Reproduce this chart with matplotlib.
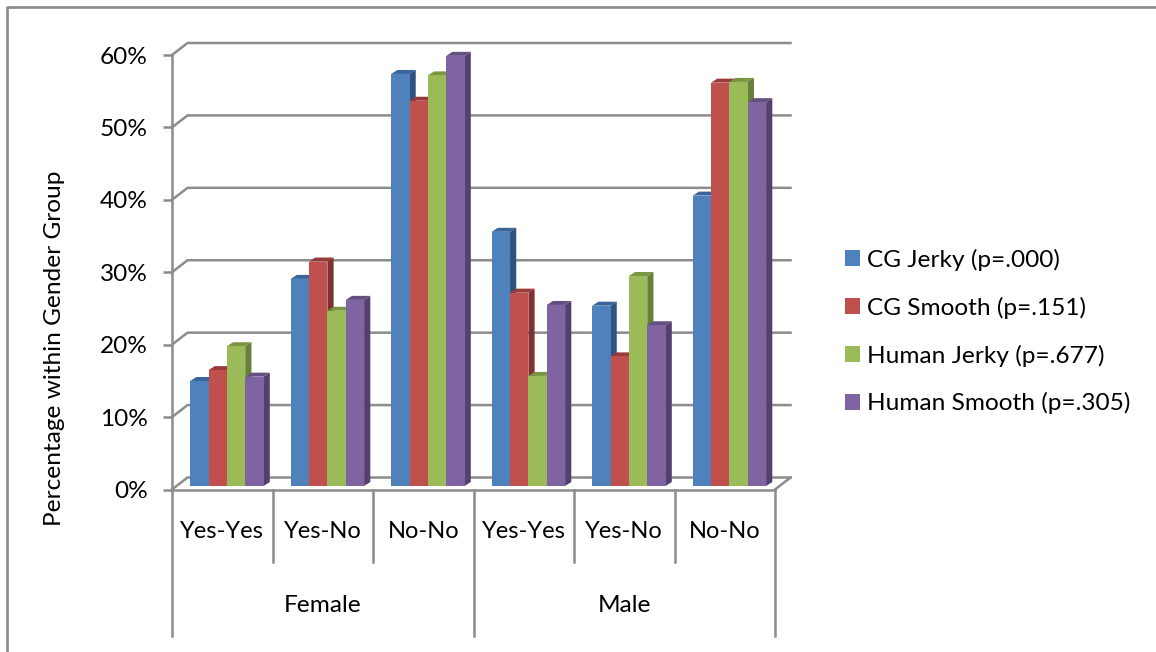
import matplotlib
matplotlib.use("Agg")
import matplotlib.pyplot as plt
from matplotlib.patches import Patch, Polygon
from matplotlib.lines import Line2D

W, H = 1156, 652
plt.rcParams['font.family'] = ['Lato', 'DejaVu Sans']

series_names = ["CG Jerky (p=.000)", "CG Smooth (p=.151)", "Human Jerky (p=.677)", "Human Smooth (p=.305)"]
sub_labels = ["Yes-Yes", "Yes-No", "No-No", "Yes-Yes", "Yes-No", "No-No"]
group_labels = ["Female", "Male"]
cg_jerky = [14.5, 28.6, 56.9, 35.1, 24.9, 40.1]
cg_smooth = [16.0, 31.0, 53.2, 26.7, 17.9, 55.7]
human_jerky = [19.3, 24.2, 56.7, 15.2, 29.0, 55.8]
human_smooth = [15.1, 25.7, 59.4, 25.0, 22.2, 53.0]
y_ticks = [0, 10, 20, 30, 40, 50, 60]

front = ["#4F81BD", "#C0504D", "#9BBB59", "#8064A2"]
side = ["#2F5380", "#7F3230", "#66803A", "#54406F"]
top = ["#3A659B", "#993B38", "#7A9643", "#644E82"]
grey = "#8C8C8C"
fs = 17.6

fig = plt.figure(figsize=(W / 100, H / 100), dpi=100)
L, R, T, B = 172, 775, 55, 489.5
ax = fig.add_axes([L / W, 1 - B / H, (R - L) / W, (B - T) / H])
ax.set_xlim(0, 6)
ax.set_ylim(0, 60)
ax.patch.set_alpha(0)

ppx = 6 / (R - L)        # data units per pixel, x
ppy = 60 / (B - T)       # data units per pixel, y

# frame of the picture
fig.add_artist(Line2D([7 / W, 7 / W, 1.0], [0.0, 1 - 7 / H, 1 - 7 / H], color="#8A8A8A", lw=1.9))

# back wall
wx, wy = 15.5 * ppx, 12 * ppy
for t in y_ticks:
    ax.plot([0, wx, 6 + wx], [t, t + wy, t + wy], color=grey, lw=1.8, clip_on=False, zorder=1, solid_joinstyle="miter")
ax.plot([6, 6 + wx], [0, wy], color=grey, lw=1.8, clip_on=False, zorder=1)

# bars
base = 3.5 * ppy
bw = 18.35 * ppx
off = 18.2 * ppx
dx, dy = 6.2 * ppx, 4 * ppy
all_series = [cg_jerky, cg_smooth, human_jerky, human_smooth]
z = 3
for c in range(6):
    for s, vals in enumerate(all_series):
        x0 = c + off + s * bw
        x1 = x0 + bw
        yt = base + vals[c]
        ax.add_patch(Polygon([(x0, yt), (x1, yt), (x1 + dx, yt + dy), (x0 + dx, yt + dy)],
                             fc=top[s], ec="none", clip_on=False, zorder=z))
        ax.add_patch(Polygon([(x1, base), (x1 + dx, base + dy), (x1 + dx, yt + dy), (x1, yt)],
                             fc=side[s], ec="none", clip_on=False, zorder=z))
        ax.bar(x0, vals[c], width=bw, bottom=base, align="edge", color=front[s], clip_on=False, zorder=z + 0.5)
        z += 1

# axes
for sp in ("top", "right"):
    ax.spines[sp].set_visible(False)
for sp in ("left", "bottom"):
    ax.spines[sp].set_color(grey)
    ax.spines[sp].set_linewidth(1.8)
    ax.spines[sp].set_zorder(100)
ax.set_yticks(y_ticks)
ax.set_yticklabels([f"{t}%" for t in y_ticks], fontsize=fs, color="black")
ax.tick_params(axis="y", length=6.5, width=1.8, color=grey, pad=11)
ax.set_xticks([])
ax.set_ylabel("Percentage within Gender Group", fontsize=fs, va="center")
ax.yaxis.set_label_coords((55 - L) / (R - L), (B - 348.5) / (B - T))

# multi-level category axis
for i in range(7):
    low = -(636 - B) if i % 3 == 0 else -(562 - B)
    ax.plot([i, i], [0, low * ppy], color=grey, lw=1.8, clip_on=False, zorder=100)

for i, lab in enumerate(sub_labels):
    ax.text(i + 0.5, -(531.5 - B) * ppy, lab, ha="center", va="center", fontsize=17, clip_on=False)
for i, lab in enumerate(group_labels):
    ax.text(3 * i + 1.5, -(605 - B) * ppy, lab, ha="center", va="center", fontsize=fs, clip_on=False)

# legend
handles = [Patch(facecolor=c, edgecolor="none", label=n) for c, n in zip(front, series_names)]
fpx = fs * 100 / 72
fig.legend(handles=handles, loc="center left", bbox_to_anchor=(845 / W, 1 - 331.5 / H), frameon=False,
           fontsize=fs, handlelength=15 / fpx, handleheight=15 / fpx, handletextpad=7 / fpx,
           labelspacing=(50.3 - fpx) / fpx, borderpad=0, borderaxespad=0)

fig.savefig("out.png", dpi=100)
